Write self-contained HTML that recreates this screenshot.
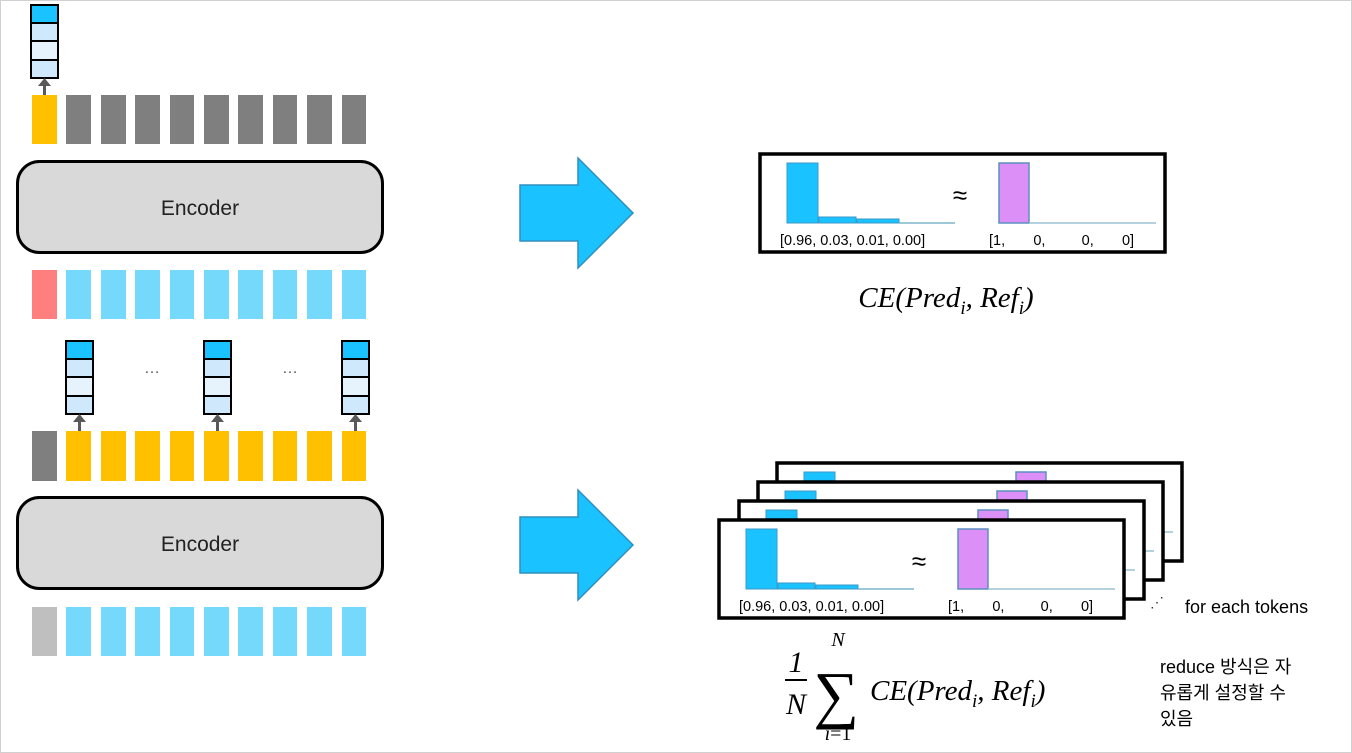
<!DOCTYPE html>
<html><head><meta charset="utf-8"><style>
html,body{margin:0;padding:0;background:#fff}
svg{display:block}
.t{font-family:"Liberation Sans",sans-serif}
.m{font-family:"Liberation Serif","DejaVu Serif",serif;font-style:italic}
.k{font-family:"Liberation Sans","Noto Sans CJK KR",sans-serif}
</style></head><body>
<svg width="1352" height="753" viewBox="0 0 1352 753" xmlns="http://www.w3.org/2000/svg">
<defs>
<g id="stack">
<rect x="0" y="0" width="27" height="18" fill="#1ac3ff" stroke="#000" stroke-width="2"/>
<rect x="0" y="18" width="27" height="18" fill="#cfe8fb" stroke="#000" stroke-width="2"/>
<rect x="0" y="36" width="27" height="19" fill="#e6f3fd" stroke="#000" stroke-width="2"/>
<rect x="0" y="55" width="27" height="18" fill="#cfe8fb" stroke="#000" stroke-width="2"/>
<line x1="13.5" y1="90" x2="13.5" y2="80" stroke="#595959" stroke-width="3"/>
<polygon points="7,81 20,81 13.5,73" fill="#595959"/>
</g>
<g id="bigarrow">
<polygon points="0,27 58,27 58,0 113,55 58,110 58,83 0,83" fill="#1ac3ff" stroke="#2f8fbf" stroke-width="1.5"/>
</g>
<g id="bars">
<rect x="27" y="9" width="31" height="60" fill="#1ac3ff" stroke="#3a9ac8" stroke-width="1"/>
<rect x="59" y="63" width="37" height="6" fill="#1ac3ff" stroke="#3a9ac8" stroke-width="1"/>
<rect x="97" y="65" width="42" height="4" fill="#1ac3ff" stroke="#3a9ac8" stroke-width="1"/>
<line x1="139" y1="69" x2="195" y2="69" stroke="#7fb5cc" stroke-width="1.5"/>
<rect x="239" y="9" width="30" height="60" fill="#dd8ff8" stroke="#5b8fc0" stroke-width="1.5"/>
<line x1="269" y1="69" x2="396" y2="69" stroke="#9cc3d3" stroke-width="1.5"/>
</g>
<g id="panel">
<rect x="0" y="0" width="405" height="98" fill="#fff" stroke="#000" stroke-width="3.5"/>
<use href="#bars"/>
<text x="200" y="50" class="t" font-size="26" text-anchor="middle">≈</text>
<text x="20" y="91" class="t" font-size="14.5">[0.96, 0.03, 0.01, 0.00]</text>
<text x="229" y="91" class="t" font-size="14.5" xml:space="preserve">[1,       0,         0,       0]</text>
</g>
</defs>
<rect x="0.5" y="0.5" width="1351" height="752" fill="#fff" stroke="#d0d0d0"/>

<!-- top section -->
<use href="#stack" x="31" y="5"/>
<rect x="32" y="95" width="25" height="49" fill="#ffc000"/>
<g fill="#7f7f7f">
<rect x="66" y="95" width="25" height="49"/><rect x="101" y="95" width="25" height="49"/><rect x="135" y="95" width="25" height="49"/><rect x="170" y="95" width="24" height="49"/><rect x="204" y="95" width="25" height="49"/><rect x="238" y="95" width="25" height="49"/><rect x="273" y="95" width="24" height="49"/><rect x="307" y="95" width="25" height="49"/><rect x="342" y="95" width="24" height="49"/>
</g>
<rect x="17.5" y="161.5" width="365" height="91" rx="22" fill="#d9d9d9" stroke="#000" stroke-width="3"/>
<text x="200" y="215" class="t" font-size="21" text-anchor="middle" fill="#222">Encoder</text>
<rect x="32" y="270" width="25" height="49" fill="#ff7f7f"/>
<g fill="#75d9fc">
<rect x="66" y="270" width="25" height="49"/><rect x="101" y="270" width="25" height="49"/><rect x="135" y="270" width="25" height="49"/><rect x="170" y="270" width="24" height="49"/><rect x="204" y="270" width="25" height="49"/><rect x="238" y="270" width="25" height="49"/><rect x="273" y="270" width="24" height="49"/><rect x="307" y="270" width="25" height="49"/><rect x="342" y="270" width="24" height="49"/>
</g>

<!-- second section -->
<use href="#stack" x="66" y="341"/>
<use href="#stack" x="204" y="341"/>
<use href="#stack" x="342" y="341"/>
<text x="152" y="373" class="t" font-size="16" text-anchor="middle" fill="#555">…</text>
<text x="290" y="373" class="t" font-size="16" text-anchor="middle" fill="#555">…</text>
<rect x="32" y="431" width="25" height="50" fill="#7f7f7f"/>
<g fill="#ffc000">
<rect x="66" y="431" width="25" height="50"/><rect x="101" y="431" width="25" height="50"/><rect x="135" y="431" width="25" height="50"/><rect x="170" y="431" width="24" height="50"/><rect x="204" y="431" width="25" height="50"/><rect x="238" y="431" width="25" height="50"/><rect x="273" y="431" width="24" height="50"/><rect x="307" y="431" width="25" height="50"/><rect x="342" y="431" width="24" height="50"/>
</g>
<rect x="17.5" y="497.5" width="365" height="91" rx="22" fill="#d9d9d9" stroke="#000" stroke-width="3"/>
<text x="200" y="551" class="t" font-size="21" text-anchor="middle" fill="#222">Encoder</text>
<rect x="32" y="607" width="25" height="49" fill="#bfbfbf"/>
<g fill="#75d9fc">
<rect x="66" y="607" width="25" height="49"/><rect x="101" y="607" width="25" height="49"/><rect x="135" y="607" width="25" height="49"/><rect x="170" y="607" width="24" height="49"/><rect x="204" y="607" width="25" height="49"/><rect x="238" y="607" width="25" height="49"/><rect x="273" y="607" width="24" height="49"/><rect x="307" y="607" width="25" height="49"/><rect x="342" y="607" width="24" height="49"/>
</g>

<!-- arrows -->
<use href="#bigarrow" x="520" y="158"/>
<use href="#bigarrow" x="520" y="490"/>

<!-- top panel -->
<use href="#panel" x="760" y="154"/>
<text x="946" y="307" class="m" font-size="29" text-anchor="middle">CE(Pred<tspan font-size="19" dy="7">i</tspan><tspan dy="-7">, Ref</tspan><tspan font-size="19" dy="7">i</tspan><tspan dy="-7">)</tspan></text>

<!-- stacked panels -->
<use href="#panel" x="777" y="463"/>
<use href="#panel" x="758" y="482"/>
<use href="#panel" x="739" y="501"/>
<use href="#panel" x="719" y="520"/>
<text x="1150" y="607" font-size="14" fill="#333" class="t">⋰</text>
<text x="1185" y="613" class="t" font-size="18">for each tokens</text>

<!-- formula -->
<text x="796" y="672" class="m" font-size="30" text-anchor="middle" font-style="normal">1</text>
<line x1="785" y1="680" x2="807" y2="680" stroke="#000" stroke-width="2"/>
<text x="796" y="714" class="m" font-size="30" text-anchor="middle">N</text>
<text x="836" y="716" font-family="Liberation Serif,serif" font-size="64" text-anchor="middle">∑</text>
<text x="838" y="646" class="m" font-size="20" text-anchor="middle">N</text>
<text x="838" y="740" class="m" font-size="20" text-anchor="middle">i<tspan font-style="normal">=1</tspan></text>
<text x="870" y="700" class="m" font-size="29">CE(Pred<tspan font-size="19" dy="7">i</tspan><tspan dy="-7">, Ref</tspan><tspan font-size="19" dy="7">i</tspan><tspan dy="-7">)</tspan></text>

<text class="k" font-size="18" x="1160" y="673">reduce 방식은 자</text>
<text class="k" font-size="18" x="1160" y="699">유롭게 설정할 수</text>
<text class="k" font-size="18" x="1160" y="725">있음</text>
</svg>
</body></html>
